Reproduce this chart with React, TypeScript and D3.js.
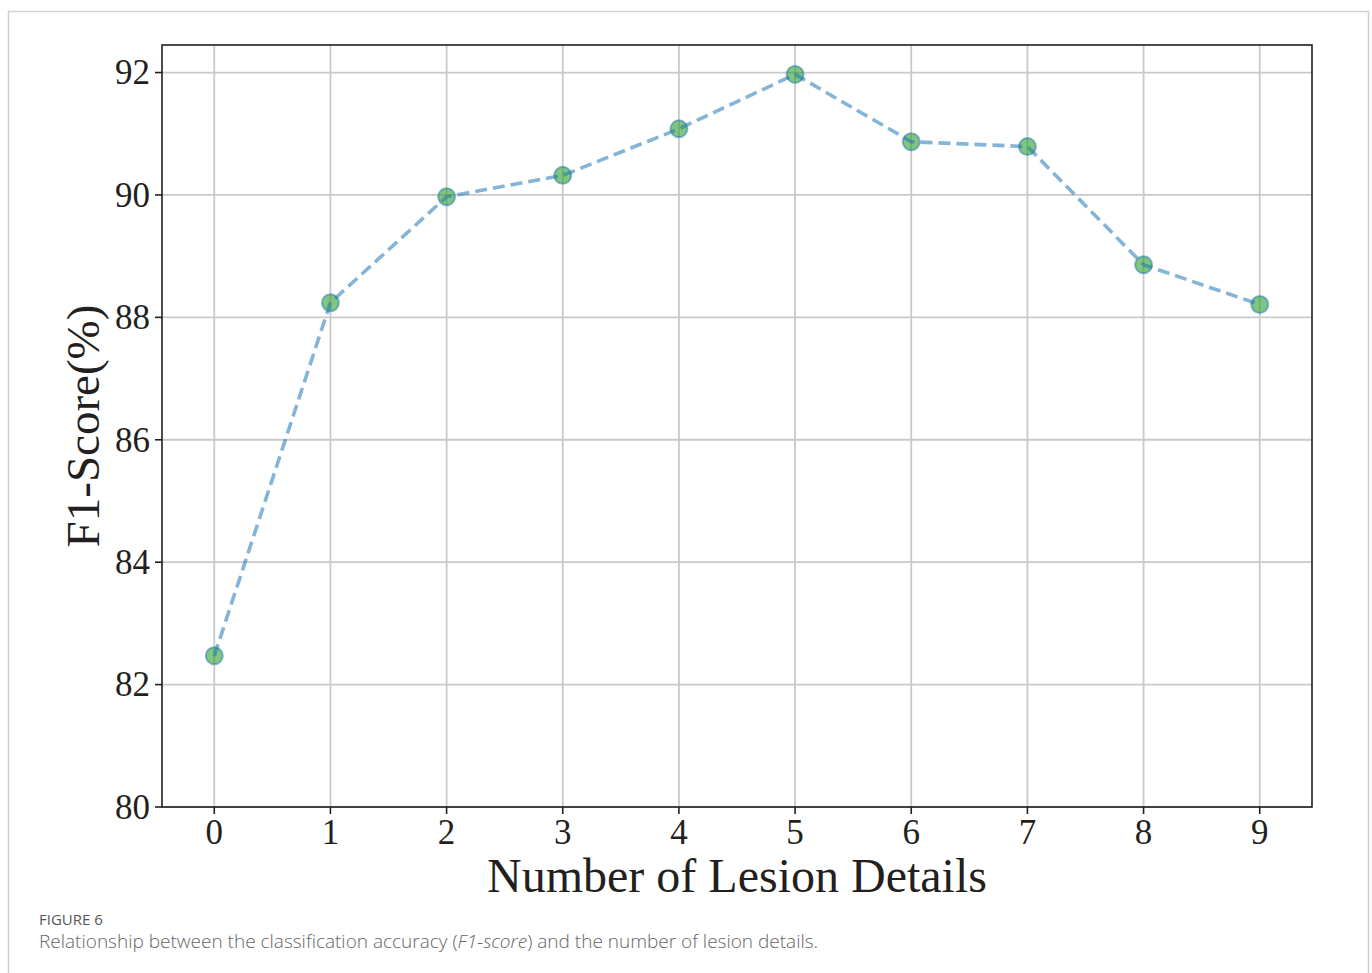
import React from 'react';
import * as d3 from 'd3';

const details = [0, 1, 2, 3, 4, 5, 6, 7, 8, 9];
const f1Scores = [82.47, 88.24, 89.97, 90.32, 91.08, 91.97, 90.87, 90.79, 88.86, 88.21];
const yTicks = [80, 82, 84, 86, 88, 90, 92];

const W = 1372;
const H = 973;
const plot = { left: 162, right: 1312, top: 45, bottom: 807 };
const serif = '"Liberation Serif", "Times New Roman", serif';
const sans = '"Open Sans", "Noto Sans", sans-serif';

const App: React.FC = () => {
  const x = d3.scaleLinear().domain([-0.45, 9.45]).range([plot.left, plot.right]);
  const y = d3.scaleLinear().domain([80, 92.45]).range([plot.bottom, plot.top]);

  const line = d3.line<number>()
    .x((_, i) => x(details[i]))
    .y(d => y(d));

  const ink = '#231f20';

  return (
    <svg width={W} height={H} style={{ position: 'absolute', left: 0, top: 0, background: '#fff' }}>
      {/* page frame */}
      <rect x={8.5} y={11.5} width={1360} height={H + 10} fill="none" stroke="#d0d0d0" strokeWidth={1.5} />

      {/* grid */}
      {details.map(d => (
        <line key={'gx' + d} x1={x(d)} x2={x(d)} y1={plot.top} y2={plot.bottom} stroke="#c9c9c9" strokeWidth={1.8} />
      ))}
      {yTicks.map(t => (
        <line key={'gy' + t} x1={plot.left} x2={plot.right} y1={y(t)} y2={y(t)} stroke="#c9c9c9" strokeWidth={1.8} />
      ))}

      {/* markers */}
      {f1Scores.map((v, i) => (
        <circle key={'m' + i} cx={x(details[i])} cy={y(v)} r={8.5}
          fill="#2ca02c" fillOpacity={0.6} stroke="#1f77b4" strokeOpacity={0.5} strokeWidth={2} />
      ))}

      {/* dashed line */}
      <path d={line(f1Scores) || ''} fill="none" stroke="#1f77b4" strokeOpacity={0.55}
        strokeWidth={3.6} strokeDasharray="12 6" />

      {/* frame */}
      <rect x={plot.left} y={plot.top} width={plot.right - plot.left} height={plot.bottom - plot.top}
        fill="none" stroke={ink} strokeWidth={1.6} />

      {/* y ticks */}
      {yTicks.map(t => (
        <g key={'ty' + t}>
          <line x1={plot.left - 7} x2={plot.left} y1={y(t)} y2={y(t)} stroke={ink} strokeWidth={1.6} />
          <text x={plot.left - 12} y={y(t)} dy="0.34em" textAnchor="end" fontFamily={serif} fontSize={35} fill={ink}>{t}</text>
        </g>
      ))}

      {/* x ticks */}
      {details.map(d => (
        <g key={'tx' + d}>
          <line x1={x(d)} x2={x(d)} y1={plot.bottom} y2={plot.bottom + 7} stroke={ink} strokeWidth={1.6} />
          <text x={x(d)} y={plot.bottom + 37} textAnchor="middle" fontFamily={serif} fontSize={35} fill={ink}>{d}</text>
        </g>
      ))}

      {/* axis titles */}
      <text x={(plot.left + plot.right) / 2} y={892} textAnchor="middle" fontFamily={serif} fontSize={48} fill={ink}>
        Number of Lesion Details
      </text>
      <text transform={`translate(99, ${(plot.top + plot.bottom) / 2}) rotate(-90)`} textAnchor="middle"
        fontFamily={serif} fontSize={47} fill={ink}>
        F1-Score(%)
      </text>

      {/* caption */}
      <text x={39} y={925} fontFamily={sans} fontSize={15} fill="#555">FIGURE 6</text>
      <text x={39} y={948} fontFamily={sans} fontSize={19} fill="#666" fontWeight={300}>
        Relationship between the classification accuracy (<tspan fontStyle="italic">F1-score</tspan>) and the number of lesion details.
      </text>
    </svg>
  );
};

export default App;
